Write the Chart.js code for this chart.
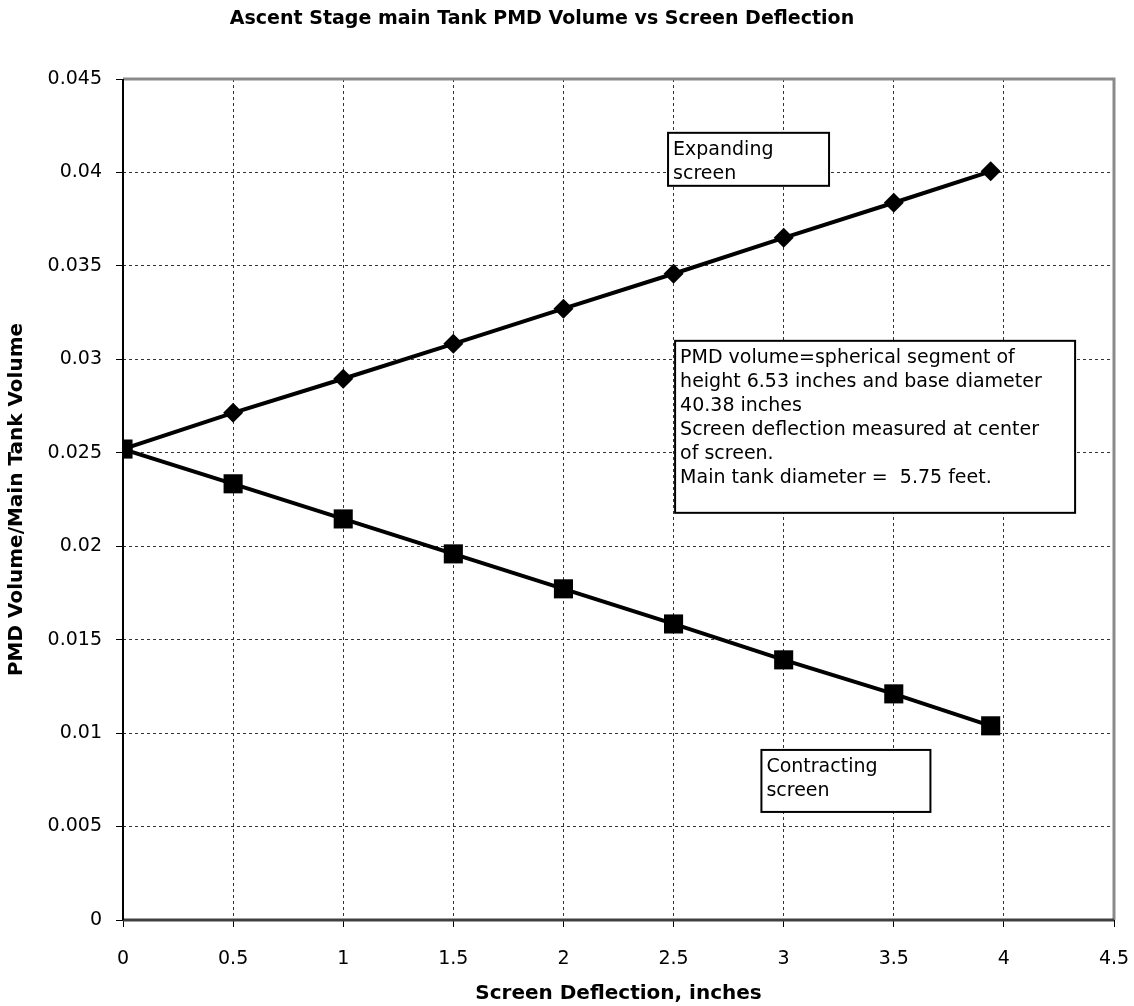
<!DOCTYPE html>
<html lang="en">
<head>
<meta charset="UTF-8">
<title>Ascent Stage main Tank PMD Volume vs Screen Deflection</title>
<script src="https://cdn.jsdelivr.net/npm/chart.js"></script>
<style>
    body { margin: 0; background: #fff; }
    #wrap { width: 1134px; height: 1006px; }
</style>
</head>
<body>
<div id="wrap"><canvas id="pmdChart" width="1134" height="1006"></canvas></div>
<script>
    // values
    const deflection = [0, 0.5, 1, 1.5, 2, 2.5, 3, 3.5, 3.94];
    const expanding = [0.0252, 0.02714, 0.02896, 0.03083, 0.03271, 0.03458, 0.0365, 0.03838, 0.04006];
    const contracting = [0.0252, 0.02334, 0.02146, 0.01959, 0.01772, 0.01584, 0.01392, 0.0121, 0.01039];

    const xTickLabels = ['0', '0.5', '1', '1.5', '2', '2.5', '3', '3.5', '4', '4.5'];
    const yTickLabels = ['0', '0.005', '0.01', '0.015', '0.02', '0.025', '0.03', '0.035', '0.04', '0.045'];

    const chartTitle = 'Ascent Stage main Tank PMD Volume vs Screen Deflection';
    const notes = [
        { x: 2.475, y: 0.04212, w: 161, h: 53, lines: ['Expanding', 'screen'] },
        { x: 2.507, y: 0.03099, w: 400, h: 172, lines: [
            'PMD volume=spherical segment of',
            'height 6.53 inches and base diameter',
            '40.38 inches',
            'Screen deflection measured at center',
            'of screen.',
            'Main tank diameter =  5.75 feet.'
        ] },
        { x: 2.899, y: 0.00910, w: 169, h: 62, lines: ['Contracting', 'screen'] }
    ];

    const FONT = "'DejaVu Sans', Verdana, sans-serif";

    const toPoints = (xs, ys) => xs.map((x, i) => ({ x: x, y: ys[i] }));

    const extras = {
        id: 'extras',
        afterDatasetsDraw(chart) {
            const ctx = chart.ctx;
            const xs = chart.scales.x, ys = chart.scales.y;
            ctx.save();
            ctx.font = '19px ' + FONT;
            ctx.textBaseline = 'middle';
            ctx.textAlign = 'left';
            notes.forEach(n => {
                const left = xs.getPixelForValue(n.x);
                const top = ys.getPixelForValue(n.y);
                ctx.fillStyle = '#fff';
                ctx.fillRect(left, top, n.w, n.h);
                ctx.lineWidth = 2;
                ctx.strokeStyle = '#000';
                ctx.strokeRect(left, top, n.w, n.h);
                ctx.fillStyle = '#000';
                n.lines.forEach((t, i) => {
                    ctx.fillText(t, left + 5, top + 17 + i * 24);
                });
            });
            ctx.restore();
        },
        afterDraw(chart) {
            const ctx = chart.ctx;
            const a = chart.chartArea;
            ctx.save();
            // frame: grey top/right, dark bottom, black left
            ctx.lineWidth = 3;
            ctx.strokeStyle = '#8a8a8a';
            ctx.beginPath();
            ctx.moveTo(a.left, a.top);
            ctx.lineTo(a.right, a.top);
            ctx.lineTo(a.right, a.bottom);
            ctx.stroke();
            ctx.strokeStyle = '#404040';
            ctx.beginPath();
            ctx.moveTo(a.left, a.bottom);
            ctx.lineTo(a.right, a.bottom);
            ctx.stroke();
            ctx.lineWidth = 2;
            ctx.strokeStyle = '#000';
            ctx.beginPath();
            ctx.moveTo(a.left, a.top);
            ctx.lineTo(a.left, a.bottom);
            ctx.stroke();

            ctx.font = 'bold 19px ' + FONT;
            ctx.fillStyle = '#000';
            ctx.textAlign = 'center';
            ctx.textBaseline = 'middle';
            ctx.fillText(chartTitle, 542, 19);
            ctx.restore();
        }
    };

    const ctx = document.getElementById('pmdChart').getContext('2d');
    new Chart(ctx, {
        type: 'line',
        data: {
            datasets: [{
                label: 'Expanding screen',
                data: toPoints(deflection, expanding),
                borderColor: '#000',
                backgroundColor: '#000',
                borderWidth: 4,
                pointStyle: 'rectRot',
                pointRadius: 10,
                pointBorderWidth: 0,
                tension: 0
            }, {
                label: 'Contracting screen',
                data: toPoints(deflection, contracting),
                borderColor: '#000',
                backgroundColor: '#000',
                borderWidth: 4,
                pointStyle: 'rect',
                pointRadius: 13.5,
                pointBorderWidth: 0,
                tension: 0
            }]
        },
        options: {
            responsive: false,
            animation: false,
            layout: { padding: { top: 79, right: 20, bottom: 0, left: 0 } },
            plugins: {
                legend: { display: false },
                tooltip: { enabled: false },
                title: { display: false }
            },
            scales: {
                x: {
                    type: 'linear',
                    min: 0,
                    max: 4.5,
                    afterFit: s => {
                        s.height = 86;
                        s.paddingRight = 0;
                        s.paddingLeft = 0;
                    },
                    ticks: {
                        stepSize: 0.5,
                        padding: 21,
                        color: '#000',
                        font: { family: FONT, size: 19 },
                        callback: (v, i) => xTickLabels[i]
                    },
                    grid: {
                        color: '#333',
                        tickLength: 7,
                        tickColor: '#000',
                        tickBorderDash: []
                    },
                    border: { display: false, dash: [3, 3] },
                    title: {
                        display: true,
                        text: 'Screen Deflection, inches',
                        color: '#000',
                        font: { family: FONT, size: 20, weight: 'bold' },
                        padding: { top: 0, bottom: 0 }
                    }
                },
                y: {
                    min: 0,
                    max: 0.045,
                    afterFit: s => { s.width = 123; },
                    ticks: {
                        stepSize: 0.005,
                        padding: 14,
                        color: '#000',
                        font: { family: FONT, size: 19 },
                        callback: (v, i) => yTickLabels[i]
                    },
                    grid: {
                        color: '#333',
                        tickLength: 7,
                        tickColor: '#000',
                        tickBorderDash: []
                    },
                    border: { display: false, dash: [3, 3] },
                    title: {
                        display: true,
                        text: 'PMD Volume/Main Tank Volume',
                        color: '#000',
                        font: { family: FONT, size: 20, weight: 'bold' },
                        padding: { top: 5, bottom: 0 }
                    }
                }
            }
        },
        plugins: [extras]
    });
</script>
</body>
</html>
